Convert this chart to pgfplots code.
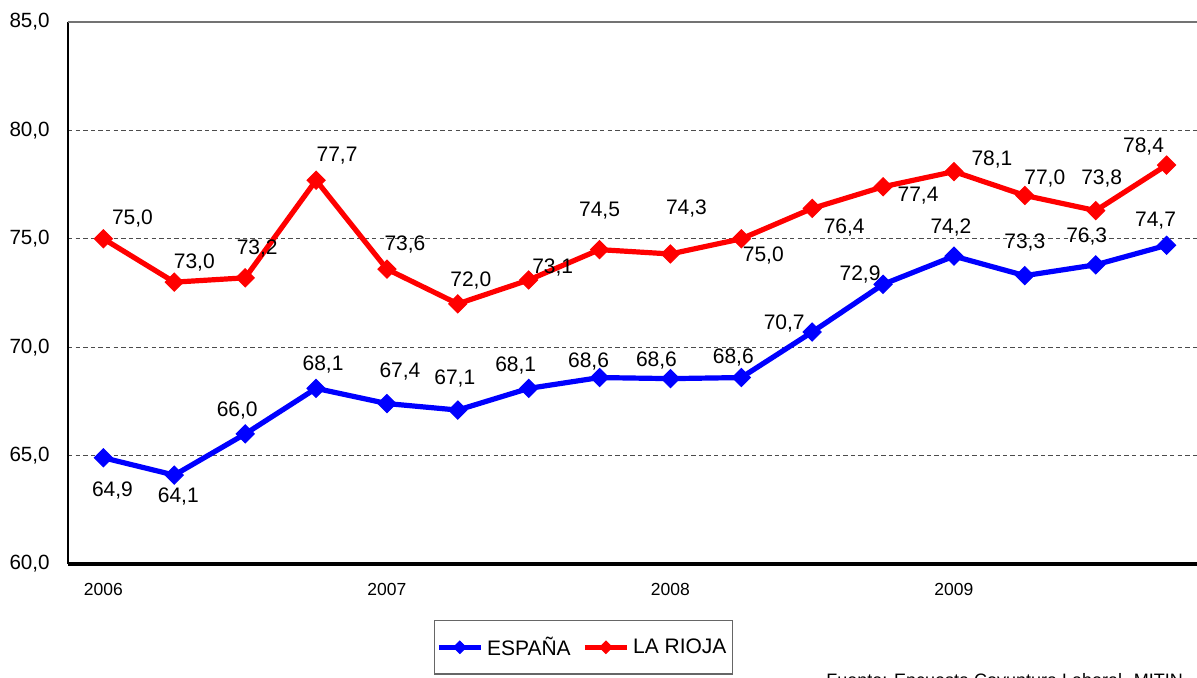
\documentclass[border=0pt]{standalone}
\usepackage{pgfplots}
\pgfplotsset{compat=1.18}
\usepackage{pgfplotstable}
\usepackage{fontspec}
\setmainfont{Liberation Sans}

\definecolor{espc}{RGB}{0,0,255}
\definecolor{rioc}{RGB}{255,0,0}

\pgfplotstableread{
x y dx dy lab
0 64.9 4.5 -16.5 64,9
1 64.1 2 -10.5 64,1
2 66.0 -4 11.5 66,0
3 68.1 3.5 12 68,1
4 67.4 6.5 16 67,4
5 67.1 -1.5 16 67,1
6 68.1 -6.5 11.5 68,1
7 68.6 -5.5 8 68,6
8 68.55 -7 9 68,6
9 68.6 -4 10 68,6
10 70.7 -14 4.5 70,7
11 72.9 -11.5 5 72,9
12 74.2 -1.5 14.5 74,2
13 73.3 0 16.5 73,3
14 73.8 -4.5 14 76,3
15 74.7 -5.5 12.5 74,7
}\tabesp

\pgfplotstableread{
x y dx dy lab
0 75.0 14.5 10 75,0
1 73.0 10 10 73,0
2 73.2 6 14.5 73,2
3 77.7 10.5 12.5 77,7
4 73.6 9 12.5 73,6
5 72.0 6.5 11.5 72,0
6 73.1 12 6 73,1
7 74.5 0 19.5 74,5
8 74.3 8 22.5 74,3
9 75.0 11 -8.5 75,0
10 76.4 16 -9.5 76,4
11 77.4 17.5 -4.5 77,4
12 78.1 19 6 78,1
13 77.0 10 8.5 77,0
14 76.3 3 16 73,8
15 78.4 -11.5 9.5 78,4
}\tabrio

\begin{document}
\begin{tikzpicture}
\useasboundingbox (-34pt,-57pt) rectangle (564.5pt,282pt);
\clip (-34pt,-57pt) rectangle (564.5pt,282pt);
\begin{axis}[
  scale only axis,
  width=567pt, height=271pt,
  xmin=-0.5, xmax=15.5,
  ymin=60, ymax=85,
  ytick={60,65,70,75,80,85},
  xtick={0,4,8,12},
  xticklabels={2006,2007,2008,2009},
  ymajorgrids,
  grid style={dash pattern=on 2.2pt off 1.6pt, black!70, line width=0.5pt},
  axis line style={draw=none},
  tick style={draw=none},
  yticklabel style={font=\fontsize{10.3}{12}\selectfont, inner xsep=0pt, xshift=-9pt,
    /pgf/number format/.cd, fixed, fixed zerofill, precision=1, use comma, assume math mode=true},
  xticklabel style={font=\fontsize{8.75}{10}\selectfont, inner ysep=0pt, yshift=-9.5pt},
  clip=false,
  legend columns=2,
  legend style={at={(0.3228,-0.1033)}, anchor=north west,
    draw=black!60, line width=0.6pt,
    font=\fontsize{10.5}{12}\selectfont,
    inner xsep=1pt, inner ysep=6pt,
    /tikz/every even column/.append style={column sep=4pt}},
  legend image code/.code={
    \draw[#1, line width=2.2pt, mark size=2.2pt, mark repeat=2, mark phase=2] plot coordinates {(0pt,0pt) (10.5pt,0pt) (21pt,0pt)};
  },
  point meta=explicit symbolic,
  nodes near coords,
  visualization depends on={\thisrow{dx}\as\dx},
  visualization depends on={\thisrow{dy}\as\dy},
  nodes near coords style={anchor=center, inner sep=0pt, text=black,
    font=\fontsize{10.5}{12}\selectfont, xshift=\dx pt, yshift=\dy pt},
]
\addplot[espc, line width=2.6pt, mark=square*, mark size=3.2pt,
  mark options={solid, rotate=45, line width=0.5pt}]
  table[x=x, y=y, meta=lab] {\tabesp};
\addlegendentry{ESPAÑA}
\addplot[rioc, line width=2.6pt, mark=square*, mark size=3.2pt,
  mark options={solid, rotate=45, line width=0.5pt}]
  table[x=x, y=y, meta=lab] {\tabrio};
\addlegendentry{LA RIOJA}
\draw[black, line width=0.8pt] (rel axis cs:0,0) -- (rel axis cs:0,1);
\draw[black!55, line width=0.6pt] (rel axis cs:0,1) -- (rel axis cs:1,1);
\draw[black, line width=1.6pt] (rel axis cs:0,0) -- (rel axis cs:1,0);
\end{axis}
\node[anchor=north west, inner sep=0pt, font=\fontsize{9}{11}\selectfont] at (379pt,-54.5pt) {Fuente: Encuesta Coyuntura Laboral. MITIN};
\end{tikzpicture}
\end{document}
